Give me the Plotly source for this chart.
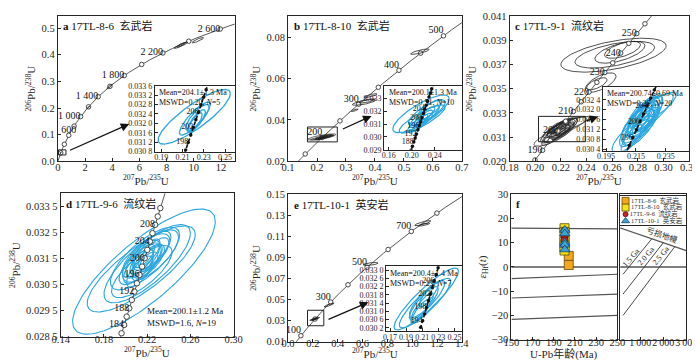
import numpy as np
import plotly.graph_objects as go

FONT = "Liberation Serif, Times New Roman, Noto Sans CJK SC, serif"
INK = "#262626"
BLUE = "#29a6e0"

# decay constants, used only to trace the concordia curve
L238 = 1.55125e-10
L235 = 9.8485e-10

# ---- ellipses: (207Pb/235U, 206Pb/238U, half-width x, half-height y, rho)
A_OLD = [(2.25, 0.203, 0.10, 0.005, 0.9), (3.82, 0.281, 0.20, 0.008, 0.9),
         (9.05, 0.436, 0.50, 0.012, 0.92), (9.10, 0.438, 0.32, 0.009, 0.9),
         (10.30, 0.455, 0.42, 0.010, 0.88)]
A_ZIRCON = [(0.2210, 0.03228, 0.0340, 0.00116, 0.85), (0.2215, 0.03220, 0.0145, 0.00070, 0.85),
            (0.2240, 0.03225, 0.0110, 0.00055, 0.80), (0.2230, 0.03210, 0.0085, 0.00048, 0.80),
            (0.2220, 0.03205, 0.0065, 0.00040, 0.80)]

B_OLD = [(0.362, 0.0485, 0.040, 0.0014, 0.75), (0.372, 0.0492, 0.028, 0.0010, 0.75),
         (0.385, 0.0518, 0.022, 0.0009, 0.80), (0.330, 0.0447, 0.012, 0.0006, 0.80),
         (0.555, 0.0730, 0.032, 0.0013, 0.80)]
B_ZIRCON = [(0.216, 0.0318, 0.049, 0.00147, 0.80), (0.218, 0.0314, 0.040, 0.00110, 0.85),
            (0.226, 0.0319, 0.032, 0.00100, 0.80), (0.222, 0.0316, 0.026, 0.00085, 0.85),
            (0.214, 0.0311, 0.022, 0.00075, 0.85), (0.230, 0.0321, 0.022, 0.00080, 0.80),
            (0.220, 0.0315, 0.016, 0.00060, 0.85), (0.226, 0.0318, 0.014, 0.00055, 0.80),
            (0.212, 0.0309, 0.012, 0.00050, 0.85), (0.218, 0.0313, 0.010, 0.00045, 0.80)]

C_OLD = [(0.2610, 0.03776, 0.0410, 0.00140, 0.55), (0.2620, 0.03780, 0.0310, 0.00110, 0.55),
         (0.2660, 0.03800, 0.0195, 0.00090, 0.60), (0.2680, 0.03820, 0.0140, 0.00070, 0.60),
         (0.2510, 0.03550, 0.0120, 0.00080, 0.65), (0.2480, 0.03540, 0.0080, 0.00050, 0.65)]
C_ZIRCON = [(0.2190, 0.03160, 0.0140, 0.00095, 0.80), (0.2230, 0.03180, 0.0170, 0.00085, 0.85),
            (0.2160, 0.03140, 0.0120, 0.00090, 0.80), (0.2200, 0.03170, 0.0110, 0.00080, 0.75),
            (0.2170, 0.03130, 0.0100, 0.00075, 0.75), (0.2210, 0.03150, 0.0100, 0.00070, 0.75),
            (0.2240, 0.03190, 0.0090, 0.00065, 0.75), (0.2150, 0.03120, 0.0090, 0.00065, 0.75),
            (0.2180, 0.03165, 0.0085, 0.00060, 0.75), (0.2220, 0.03175, 0.0080, 0.00060, 0.75),
            (0.2130, 0.03100, 0.0140, 0.00075, 0.80), (0.2260, 0.03200, 0.0160, 0.00070, 0.85),
            (0.2200, 0.03145, 0.0075, 0.00055, 0.75), (0.2170, 0.03155, 0.0075, 0.00055, 0.75),
            (0.2190, 0.03185, 0.0070, 0.00050, 0.75), (0.2230, 0.03160, 0.0070, 0.00050, 0.75),
            (0.2120, 0.03085, 0.0070, 0.00055, 0.80), (0.2250, 0.03210, 0.0075, 0.00055, 0.75),
            (0.2160, 0.03175, 0.0065, 0.00050, 0.75), (0.2210, 0.03200, 0.0065, 0.00050, 0.75)]

D_ZIRCON = [(0.217, 0.0310, 0.066, 0.00240, 0.80), (0.2145, 0.0311, 0.050, 0.00165, 0.80),
            (0.220, 0.0313, 0.040, 0.00150, 0.78), (0.218, 0.0315, 0.032, 0.00120, 0.75),
            (0.215, 0.0310, 0.028, 0.00100, 0.75), (0.223, 0.0316, 0.026, 0.00100, 0.72),
            (0.219, 0.0316, 0.022, 0.00085, 0.70), (0.214, 0.0313, 0.020, 0.00080, 0.72),
            (0.224, 0.0318, 0.018, 0.00075, 0.70), (0.216, 0.0315, 0.016, 0.00070, 0.70),
            (0.221, 0.0314, 0.015, 0.00065, 0.70), (0.212, 0.0312, 0.014, 0.00065, 0.70),
            (0.226, 0.0317, 0.014, 0.00060, 0.70), (0.218, 0.0312, 0.012, 0.00055, 0.70),
            (0.220, 0.0317, 0.012, 0.00055, 0.70), (0.215, 0.0314, 0.011, 0.00050, 0.70),
            (0.223, 0.0315, 0.010, 0.00050, 0.70), (0.217, 0.0316, 0.010, 0.00045, 0.70),
            (0.213, 0.0310, 0.012, 0.00060, 0.70)]

E_OLD = [(0.330, 0.0448, 0.040, 0.0018, 0.90), (0.665, 0.0838, 0.060, 0.0014, 0.55),
         (1.085, 0.1226, 0.065, 0.0024, 0.85), (1.095, 0.1212, 0.045, 0.0014, 0.80)]
E_ZIRCON = [(0.2150, 0.03160, 0.0400, 0.00150, 0.90), (0.2135, 0.03140, 0.0320, 0.00120, 0.88),
            (0.2160, 0.03160, 0.0220, 0.00090, 0.85), (0.2120, 0.03140, 0.0180, 0.00080, 0.85),
            (0.2100, 0.03120, 0.0140, 0.00070, 0.85), (0.2180, 0.03180, 0.0120, 0.00060, 0.85),
            (0.2080, 0.03100, 0.0120, 0.00060, 0.85)]

# ---- concordia age marks (Ma) and labelled ages
A_MARKS = list(range(200, 2800, 200))
A_LABELS = [600, 1000, 1400, 1800, 2200, 2600]
B_MARKS = list(range(150, 600, 50))
B_LABELS = [200, 300, 400, 500]
C_MARKS = list(range(185, 260, 5))
C_LABELS = [190, 200, 210, 220, 230, 240, 250]
D_MARKS = list(range(182, 214, 2))
D_LABELS = [184, 188, 192, 196, 200, 204, 208]
E_MARKS = list(range(100, 900, 100))
E_LABELS = [100, 300, 500, 700]
A_IN_MARKS, A_IN_LABELS = list(range(194, 214, 2)), [198, 202, 206]
B_IN_MARKS, B_IN_LABELS = list(range(184, 216, 2)), [188, 192, 196, 200, 204]
C_IN_MARKS, C_IN_LABELS = list(range(192, 210, 2)), [196, 200, 204]
E_IN_MARKS, E_IN_LABELS = list(range(190, 212, 2)), [194, 198, 202, 206]

# ---- panel f: Hf isotopes
AGE_8_6, EHF_8_6 = [204.1, 204.1], [4.6, 0.8]
AGE_8_10, EHF_8_10 = [200.1] * 6, [16.0, 14.5, 11.5, 10.5, 8.5, 6.8]
AGE_9_6, EHF_9_6 = [200.1] * 4, [15.0, 12.8, 11.0, 9.0]
AGE_10_1, EHF_10_1 = [200.4] * 5, [15.3, 13.8, 10.0, 9.2, 7.2]
DM_AGE, DM_EHF = [0, 3000], [16.5, 6.8]
CRUST_T = [1500, 2000, 2500]
CRUST_150 = [-4.8, -12.8, -21.6]
CRUST_250 = [-3.0, -11.2, -20.0]
CRUST_LABELS = ["1.5 Ga", "2.0 Ga", "2.5 Ga"]

# ---- ticks
A_XT, A_YT = [0, 2, 4, 6, 8, 10, 12], [0.0, 0.1, 0.2, 0.3, 0.4, 0.5]
B_XT, B_YT = [0.1, 0.2, 0.3, 0.4, 0.5, 0.6, 0.7], [0.02, 0.04, 0.06, 0.08]
C_XT = [0.18, 0.20, 0.22, 0.24, 0.26, 0.28, 0.30, 0.32]
C_YT = [0.029, 0.031, 0.033, 0.035, 0.037, 0.039, 0.041]
D_XT = [0.14, 0.18, 0.22, 0.26, 0.30]
D_YT = [0.0285, 0.0295, 0.0305, 0.0315, 0.0325, 0.0335]
E_XT = [0.0, 0.2, 0.4, 0.6, 0.8, 1.0, 1.2, 1.4]
E_YT = [0.01, 0.03, 0.05, 0.07, 0.09, 0.11, 0.13, 0.15]
F_XT, F_YT, FR_XT = [150, 170, 190, 210, 230, 250], [-30, -20, -10, 0, 10, 20, 30], [1000, 2000, 3000]
AI_XT, AI_YT = [0.19, 0.21, 0.23, 0.25], [0.0308, 0.0312, 0.0316, 0.0320, 0.0324, 0.0328, 0.0332, 0.0336]
BI_XT, BI_YT = [0.16, 0.20, 0.24], [0.029, 0.030, 0.031, 0.032, 0.033]
CI_XT, CI_YT = [0.195, 0.215, 0.235], [0.0304, 0.0308, 0.0312, 0.0316, 0.0320, 0.0324]
EI_XT, EI_YT = [0.17, 0.19, 0.21, 0.23, 0.25], [0.0302, 0.0306, 0.0310, 0.0314, 0.0318, 0.0322, 0.0326, 0.0330]


def concordia(ages):
    t = np.asarray(ages, float) * 1e6
    return np.expm1(L235 * t), np.expm1(L238 * t)


def spaced(v, nd):
    s = f"{v:.{nd}f}"
    return s[:5] + " " + s[5:] if nd > 3 else s


def thousands(v, sep=" "):
    return f"{v:,}".replace(",", sep)


def px(l, r):
    return [l / 700, r / 700]


def py(t, b):
    return [1 - b / 360, 1 - t / 360]


def ref(i, letter):
    return letter if i == 1 else f"{letter}{i}"


fig = go.Figure()
layout = {}


def set_axes(i, xdom, ydom, xr, yr, xt, xtt, yt, ytt, fs=10.5, ytitle=None, yticks="inside", ylabels=True,
             xstand=0):
    common = dict(showline=True, mirror=True, linecolor=INK, linewidth=1, ticklen=3, tickwidth=1,
                  tickcolor=INK, showgrid=False, zeroline=False, tickmode="array", tickangle=0,
                  tickfont=dict(family=FONT, size=fs, color=INK))
    tfont = dict(family=FONT, size=11, color=INK)
    layout["xaxis" if i == 1 else f"xaxis{i}"] = dict(
        domain=xdom, range=xr, tickvals=xt, ticktext=xtt, anchor=ref(i, "y"), ticks="inside",
        showticklabels=bool(xt), ticklabelstandoff=xstand, **common)
    layout["yaxis" if i == 1 else f"yaxis{i}"] = dict(
        domain=ydom, range=yr, tickvals=yt, ticktext=ytt, anchor=ref(i, "x"), ticks=yticks,
        showticklabels=ylabels and bool(yt),
        title=dict(text=ytitle, font=tfont, standoff=3) if ytitle else None, **common)


def add_ellipses(i, ells, color, width):
    xs, ys = [], []
    t = np.linspace(0, 2 * np.pi, 120)
    for x0, y0, sx, sy, r in ells:
        xs += list(x0 + sx * np.cos(t)) + [None]
        ys += list(y0 + sy * (r * np.cos(t) + np.sqrt(1 - r * r) * np.sin(t))) + [None]
    fig.add_trace(go.Scatter(x=xs, y=ys, mode="lines", line=dict(color=color, width=width),
                             xaxis=ref(i, "x"), yaxis=ref(i, "y"), hoverinfo="skip"))


def add_concordia(i, lo, hi, marks, labels, pos, fmt=str, inset=False, msize=4.5, fs=10):
    cx, cy = concordia(np.linspace(lo, hi, 400))
    if inset:
        line = dict(color="#111", width=1.6, dash="4px,2px")
        mk = dict(size=3.5, color="#111")
    else:
        line = dict(color="#444", width=0.9)
        mk = dict(size=msize, color="white", line=dict(color="#333", width=0.9))
    fig.add_trace(go.Scatter(x=cx, y=cy, mode="lines", line=line,
                             xaxis=ref(i, "x"), yaxis=ref(i, "y"), hoverinfo="skip"))
    mx, my = concordia(marks)
    fig.add_trace(go.Scatter(x=mx, y=my, mode="markers", marker=mk,
                             xaxis=ref(i, "x"), yaxis=ref(i, "y"), hoverinfo="skip"))
    lx, ly = concordia(labels)
    fig.add_trace(go.Scatter(x=lx, y=ly, mode="text", text=[fmt(v) for v in labels],
                             textposition=pos, textfont=dict(family=FONT, size=fs, color="#111"),
                             xaxis=ref(i, "x"), yaxis=ref(i, "y"), hoverinfo="skip"))


# main panels ---------------------------------------------------------------
XT_TITLE = "<sup>207</sup>Pb/<sup>235</sup>U"
YT_TITLE = "<sup>206</sup>Pb/<sup>238</sup>U"

set_axes(1, px(42, 224), py(3, 153), [0, 13], [0, 0.546], A_XT, [str(v) for v in A_XT],
         A_YT, [f"{v:.1f}" for v in A_YT], ytitle=YT_TITLE, xstand=-4)
set_axes(2, px(279, 458), py(3, 153), [0.1, 0.7], [0.02, 0.0903], B_XT, [f"{v:.1f}" for v in B_XT],
         B_YT, [f"{v:.2f}" for v in B_YT], ytitle=YT_TITLE, xstand=-4)
set_axes(3, px(507, 692), py(3, 153), [0.18, 0.32], [0.029, 0.041], C_XT, [f"{v:.2f}" for v in C_XT],
         C_YT, [f"{v:.3f}" for v in C_YT], ytitle=YT_TITLE, xstand=-4)
set_axes(4, px(45, 223), py(186, 334), [0.14, 0.30], [0.0285, 0.0340], D_XT, [f"{v:.2f}" for v in D_XT],
         D_YT, [spaced(v, 4) for v in D_YT], ytitle=YT_TITLE, xstand=-7)
set_axes(5, px(279, 458), py(187, 339), [0.0, 1.4], [0.01, 0.15], E_XT, [f"{v:.1f}" for v in E_XT],
         E_YT, [f"{v:.2f}" for v in E_YT], ytitle=YT_TITLE, xstand=-8)
set_axes(6, px(509, 618), py(187, 337), [150, 250], [-30, 30], F_XT, [str(v) for v in F_XT],
         F_YT, [str(v).replace("-", "\u2212") for v in F_YT], fs=10.5, xstand=-7,
         ytitle="<i>ε</i><sub>Hf</sub>(<i>t</i>)")
set_axes(7, px(621, 689), py(187, 337), [130, 3000], [-30, 30], FR_XT,
         [thousands(v, "\u2009") for v in FR_XT], F_YT, [], fs=10, yticks="", ylabels=False, xstand=-7)
# insets (drawn after the main panels so they sit on top)
set_axes(8, px(142, 224), py(75, 143), [0.184, 0.259], [0.0308, 0.0336], AI_XT, [f"{v:.2f}" for v in AI_XT],
         AI_YT, [spaced(v, 4) for v in AI_YT], fs=8, xstand=-2)
set_axes(9, px(378, 458), py(75, 141), [0.152, 0.287], [0.029, 0.034], BI_XT, [f"{v:.2f}" for v in BI_XT],
         BI_YT, [f"{v:.3f}" for v in BI_YT], fs=8, xstand=-2)
set_axes(10, px(603, 692), py(76, 142), [0.1928, 0.2507], [0.03034, 0.03293], CI_XT,
         [f"{v:.3f}" for v in CI_XT], CI_YT, [spaced(v, 4) for v in CI_YT], fs=8, xstand=-2)
set_axes(11, px(380, 458), py(261, 328), [0.1652, 0.2593], [0.03005, 0.0332], EI_XT,
         [f"{v:.2f}" for v in EI_XT], EI_YT, [spaced(v, 4) for v in EI_YT], fs=8, xstand=-2)
# legend box of panel f
set_axes(12, px(621, 689), py(189, 219), [0, 1], [0, 1], [], [], [], [], yticks="", ylabels=False)
layout["xaxis12"]["ticks"] = ""

# a
add_concordia(1, 0, 2800, A_MARKS, A_LABELS, ["top center"] + ["middle left"] * 5, thousands)
add_ellipses(1, A_OLD, "#222", 0.8)
add_ellipses(1, A_ZIRCON, "#222", 0.8)
add_ellipses(8, A_ZIRCON, BLUE, 1.3)
add_concordia(8, 192, 214, A_IN_MARKS, A_IN_LABELS, "middle left", inset=True, fs=8)
# b
add_concordia(2, 100, 600, B_MARKS, B_LABELS, "top left")
add_ellipses(2, B_OLD, "#222", 0.8)
add_ellipses(2, B_ZIRCON, "#222", 0.7)
add_ellipses(9, B_ZIRCON, BLUE, 1.2)
add_concordia(9, 182, 216, B_IN_MARKS, B_IN_LABELS, "middle left", inset=True, fs=8)
# c
add_ellipses(3, C_OLD, "#222", 0.8)
add_ellipses(3, C_ZIRCON, "#222", 0.7)
add_concordia(3, 180, 265, C_MARKS, C_LABELS, "middle left")
add_ellipses(10, C_ZIRCON, BLUE, 1.1)
add_concordia(10, 190, 212, C_IN_MARKS, C_IN_LABELS, "middle left", inset=True, fs=8)
# d
add_ellipses(4, D_ZIRCON, BLUE, 1.1)
add_concordia(4, 176, 216, D_MARKS, D_LABELS, "middle left", msize=5.5)
# e
add_concordia(5, 0, 900, E_MARKS, E_LABELS, "top left")
add_ellipses(5, E_OLD, "#222", 0.8)
add_ellipses(5, E_ZIRCON, "#222", 0.7)
add_ellipses(11, E_ZIRCON, BLUE, 1.2)
add_concordia(11, 188, 212, E_IN_MARKS, E_IN_LABELS, "middle left", inset=True, fs=8)

# f -------------------------------------------------------------------------
GRAY = "#555"
for i in (6, 7):
    fig.add_trace(go.Scatter(x=DM_AGE, y=DM_EHF, mode="lines", line=dict(color=GRAY, width=1.3),
                             xaxis=ref(i, "x"), yaxis=ref(i, "y"), hoverinfo="skip"))
    fig.add_trace(go.Scatter(x=[0, 3000], y=[0, 0], mode="lines", line=dict(color=GRAY, width=1.3),
                             xaxis=ref(i, "x"), yaxis=ref(i, "y"), hoverinfo="skip"))
for t, e150, e250 in zip(CRUST_T, CRUST_150, CRUST_250):
    fig.add_trace(go.Scatter(x=[150, 250], y=[e150, e250], mode="lines", line=dict(color=GRAY, width=1.2),
                             xaxis="x6", yaxis="y6", hoverinfo="skip"))
    fig.add_trace(go.Scatter(x=[250, t], y=[e250, np.interp(t, DM_AGE, DM_EHF)], mode="lines",
                             line=dict(color="#333", width=0.9), xaxis="x7", yaxis="y7", hoverinfo="skip"))

STYLES = [
    ("17TL-8-6\u2002玄武岩", AGE_8_6, EHF_8_6, dict(symbol="square", size=9, color="#f3a81c",
                                                  line=dict(color="#6b4a00", width=0.8))),
    ("17TL-8-10\u2002玄武岩", AGE_8_10, EHF_8_10, dict(symbol="square", size=9, color="#f6e21a",
                                                    line=dict(color="#5c4b00", width=0.8))),
    ("17TL-9-6\u2002流纹岩", AGE_9_6, EHF_9_6, dict(symbol="circle", size=7, color="#c4232b",
                                                  line=dict(color="#5a0d10", width=0.8))),
    ("17TL-10-1\u2002英安岩", AGE_10_1, EHF_10_1, dict(symbol="triangle-up", size=9, color="#3aa3dc",
                                                     line=dict(color="#10496b", width=0.8))),
]
for k, (name, ages, vals, mk) in enumerate(STYLES):
    fig.add_trace(go.Scatter(x=ages, y=vals, mode="markers", marker=mk, xaxis="x6", yaxis="y6",
                             hoverinfo="skip"))
    row = 0.84 - k * 0.23
    lm = dict(mk, size=mk["size"] - 2)
    fig.add_trace(go.Scatter(x=[0.08], y=[row], mode="markers+text", marker=lm, text=[name],
                             textposition="middle right", textfont=dict(family=FONT, size=6.5, color="#333"),
                             xaxis="x12", yaxis="y12", hoverinfo="skip", cliponaxis=False))

ann = []
CRUST_LABEL_POS = [(600, 4.0), (1270, 4.8), (1900, 4.8)]
for lab, (lx, ly) in zip(CRUST_LABELS, CRUST_LABEL_POS):
    ann.append(dict(x=lx, y=ly, xref="x7", yref="y7", text=lab, showarrow=False, textangle=-50,
                    font=dict(family=FONT, size=8, color="#222")))
ann.append(dict(x=1950, y=13.3, xref="x7", yref="y7", text="亏损地幔", showarrow=False, textangle=19,
                font=dict(family=FONT, size=8, color="#222")))
ann.append(dict(x=600 / 700, y=1 - 352 / 360, xref="paper", yref="paper", text="U-Pb年龄(Ma)",
                showarrow=False, yanchor="middle", font=dict(family=FONT, size=11, color=INK)))

# x-axis titles of the concordia panels
for i, ypx in ((1, 172), (2, 172), (3, 172), (4, 350), (5, 351)):
    ann.append(dict(x=0.5, y=1 - ypx / 360, xref=f"{ref(i, 'x')} domain", yref="paper", text=XT_TITLE,
                    showarrow=False, yanchor="middle", font=dict(family=FONT, size=11, color=INK)))

# panel titles
TITLES = [(1, "a", "17TL-8-6\u2002玄武岩"), (2, "b", "17TL-8-10\u2002玄武岩"), (3, "c", "17TL-9-1\u2002流纹岩"),
          (4, "d", "17TL-9-6\u2002流纹岩"), (5, "e", "17TL-10-1\u2002英安岩"), (6, "f", "")]
for i, letter, txt in TITLES:
    ann.append(dict(x=0.02, y=0.99, xref=f"{ref(i, 'x')} domain", yref=f"{ref(i, 'y')} domain",
                    xanchor="left", yanchor="top", showarrow=False, text=f"<b>{letter}</b> {txt}",
                    font=dict(family=FONT, size=11, color="#111")))

# weighted means
MEANS = [(8, "Mean=204.1±1.3 Ma<br>MSWD=0.20, <i>N</i>=5", 0.02, 0.99, "top"),
         (9, "Mean=200.1±1.3 Ma<br>MSWD=0.51, <i>N</i>=10", 0.04, 0.99, "top"),
         (10, "Mean=200.74±0.69 Ma<br>MSWD=0.26, <i>N</i>=20", 0.03, 0.99, "top"),
         (11, "Mean=200.4±1.4 Ma<br>MSWD=0.23, <i>N</i>=7", 0.02, 0.99, "top"),
         (4, "Mean=200.1±1.2 Ma<br>MSWD=1.6, <i>N</i>=19", 0.49, 0.05, "bottom")]
for i, txt, x, y, ya in MEANS:
    ann.append(dict(x=x, y=y, xref=f"{ref(i, 'x')} domain", yref=f"{ref(i, 'y')} domain", xanchor="left",
                    yanchor=ya, align="left", showarrow=False, text=txt,
                    font=dict(family=FONT, size=8 if i != 4 else 9, color="#111")))

# arrows from the boxed clusters to their insets
ARROWS = [(1, 0.79, 0.039, 5.25, 0.14), (2, 0.284, 0.0353, 0.388, 0.0419),
          (3, 0.239, 0.0323, 0.249, 0.0327), (5, 0.314, 0.0306, 0.647, 0.0475)]
for i, x0, y0, x1, y1 in ARROWS:
    xr, yr = ref(i, "x"), ref(i, "y")
    ann.append(dict(x=x1, y=y1, ax=x0, ay=y0, xref=xr, yref=yr, axref=xr, ayref=yr, text="",
                    showarrow=True, arrowhead=2, arrowsize=1.3, arrowwidth=1.3, arrowcolor="#111"))

BOXES = [(1, 0.05, 0.60, 0.024, 0.043), (2, 0.167, 0.270, 0.0294, 0.0366),
         (3, 0.2026, 0.239, 0.03062, 0.03271), (5, 0.157, 0.288, 0.0251, 0.0398)]
shapes = [dict(type="rect", xref=ref(i, "x"), yref=ref(i, "y"), x0=a, x1=b, y0=c, y1=d,
               line=dict(color="#222", width=1), layer="above") for i, a, b, c, d in BOXES]

fig.update_layout(width=700, height=360, margin=dict(l=0, r=0, t=0, b=0), showlegend=False,
                  paper_bgcolor="white", plot_bgcolor="white", annotations=ann, shapes=shapes,
                  font=dict(family=FONT, color=INK), **layout)
fig.write_html("out.html")
